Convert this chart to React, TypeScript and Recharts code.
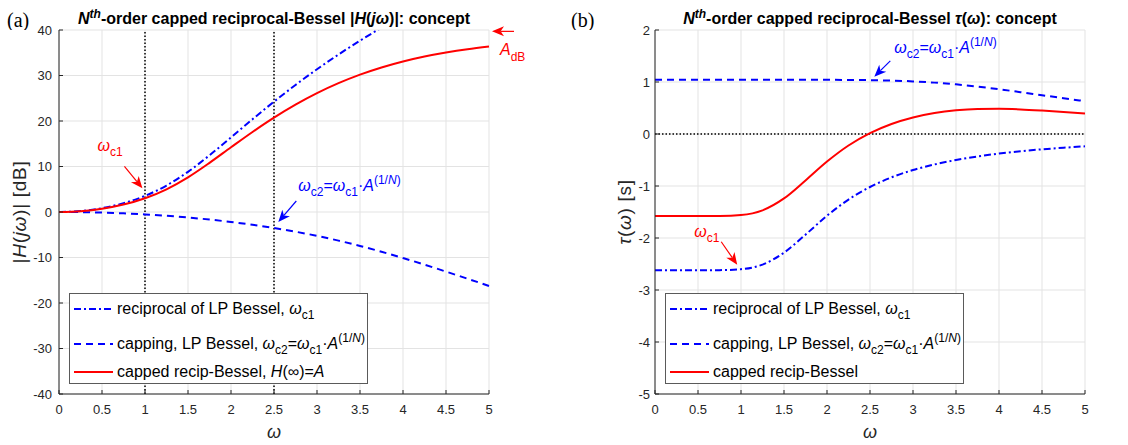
import React from "react";
import {
  LineChart,
  Line,
  XAxis,
  YAxis,
  CartesianGrid,
  ReferenceLine,
  ReferenceDot,
  Legend,
} from "recharts";

const FONT = '"Liberation Sans", Arial, Helvetica, sans-serif';
const INK = "#262626";
const GRID = "#e3e3e3";
const BLUE = "#0000ff";
const RED = "#ff0000";
const DASH_DOT = "7 3 2 3";
const DASH = "7 5";

// angular frequency samples
const omega = [
  0, 0.25, 0.5, 0.75, 1, 1.25, 1.5, 1.75, 2, 2.25, 2.5, 2.75, 3, 3.25, 3.5,
  3.75, 4, 4.25, 4.5, 4.75, 5,
];

// magnitude |H(jω)| in dB
const recipMagDb = [
  0, 0.21, 0.84, 1.93, 3.55, 5.82, 8.83, 12.46, 16.4, 20.39, 24.25, 27.92,
  31.37, 34.61, 37.65, 40.51, 43.2, 45.75, 48.16, 50.45, 52.63,
];
const capMagDb = [
  0, -0.03, -0.13, -0.3, -0.53, -0.83, -1.21, -1.66, -2.19, -2.8, -3.51, -4.33,
  -5.25, -6.29, -7.46, -8.73, -10.11, -11.57, -13.1, -14.66, -16.25,
];
const cappedMagDb = [
  0, 0.18, 0.71, 1.63, 3.02, 4.99, 7.62, 10.8, 14.22, 17.59, 20.74, 23.59,
  26.12, 28.31, 30.19, 31.77, 33.09, 34.18, 35.06, 35.79, 36.38,
];

// group delay τ(ω) in s
const recipDelay = [
  -2.62, -2.62, -2.62, -2.618, -2.6, -2.511, -2.282, -1.936, -1.572, -1.261,
  -1.019, -0.834, -0.693, -0.585, -0.5, -0.432, -0.377, -0.332, -0.295, -0.264,
  -0.237,
];
const capDelay = [
  1.043, 1.043, 1.043, 1.043, 1.043, 1.043, 1.043, 1.043, 1.042, 1.04, 1.035,
  1.027, 1.012, 0.988, 0.955, 0.912, 0.861, 0.805, 0.746, 0.688, 0.631,
];
const cappedDelay = [
  -1.577, -1.577, -1.577, -1.575, -1.557, -1.468, -1.239, -0.893, -0.53,
  -0.221, 0.017, 0.193, 0.318, 0.403, 0.455, 0.48, 0.484, 0.473, 0.451, 0.424,
  0.394,
];

const omegaTicks = [0, 0.5, 1, 1.5, 2, 2.5, 3, 3.5, 4, 4.5, 5];
const magTicks = [-40, -30, -20, -10, 0, 10, 20, 30, 40];
const delayTicks = [-5, -4, -3, -2, -1, 0, 1, 2];

const magData = omega.map((w, i) => ({
  w,
  recip: recipMagDb[i],
  cap: capMagDb[i],
  capped: cappedMagDb[i],
}));
const delayData = omega.map((w, i) => ({
  w,
  recip: recipDelay[i],
  cap: capDelay[i],
  capped: cappedDelay[i],
}));

// small html helpers for the legend text
const sub = (t: React.ReactNode) => (
  <span style={{ fontSize: 12, position: "relative", top: 5 }}>{t}</span>
);
const sup = (t: React.ReactNode) => (
  <span style={{ fontSize: 12, position: "relative", top: -7 }}>{t}</span>
);
const w = <i>ω</i>;
const wc2Html = (
  <>
    {w}
    {sub("c2")}={w}
    {sub("c1")}·<i>A</i>
    {sup(
      <>
        (1/<i>N</i>)
      </>
    )}
  </>
);

const baseSeries = [
  {
    key: "recip",
    color: BLUE,
    dash: DASH_DOT,
    label: (
      <>
        reciprocal of LP Bessel, {w}
        {sub("c1")}
      </>
    ),
  },
  {
    key: "cap",
    color: BLUE,
    dash: DASH,
    label: <>capping, LP Bessel, {wc2Html}</>,
  },
];
const magSeries = [
  ...baseSeries,
  {
    key: "capped",
    color: RED,
    dash: undefined,
    label: (
      <>
        capped recip-Bessel, <i>H</i>(∞)=<i>A</i>
      </>
    ),
  },
];
const delaySeries = [
  ...baseSeries,
  { key: "capped", color: RED, dash: undefined, label: <>capped recip-Bessel</> },
];

type Series = typeof magSeries;

const rowCenters = [15, 50, 77.5];

const LegendBox = ({ series }: { series: Series }) => (
  <div
    style={{
      position: "relative",
      width: 299,
      height: 91,
      boxSizing: "border-box",
      border: "1px solid #5a5a5a",
      background: "#fff",
      fontFamily: FONT,
      fontSize: 16,
      color: "#000",
    }}
  >
    {series.map((s, i) => (
      <div
        key={s.key}
        style={{
          position: "absolute",
          left: 0,
          top: rowCenters[i] - 10,
          height: 20,
          display: "flex",
          alignItems: "center",
          whiteSpace: "nowrap",
        }}
      >
        <svg width={47} height={20} style={{ flex: "none" }}>
          <line
            x1={4}
            x2={43}
            y1={10}
            y2={10}
            stroke={s.color}
            strokeWidth={2}
            strokeDasharray={s.dash}
          />
        </svg>
        <span style={{ lineHeight: "20px" }}>{s.label}</span>
      </div>
    ))}
  </div>
);

// arrow with its tip on (cx, cy), tail at (cx+dx, cy+dy), label at (cx+lx, cy+ly)
function arrowTo(
  color: string,
  dx: number,
  dy: number,
  lx: number,
  ly: number,
  label: React.ReactNode
) {
  return (p: any) => {
    const { cx, cy } = p;
    const len = Math.hypot(dx, dy);
    const ux = -dx / len;
    const uy = -dy / len;
    const L = 12;
    const W = 5;
    const bx = cx - ux * L;
    const by = cy - uy * L;
    const mx = cx - ux * L * 0.72;
    const my = cy - uy * L * 0.72;
    const nx = -uy;
    const ny = ux;
    return (
      <g>
        <line
          x1={cx + dx}
          y1={cy + dy}
          x2={mx}
          y2={my}
          stroke={color}
          strokeWidth={1.2}
        />
        <polygon
          points={`${cx},${cy} ${bx + nx * W},${by + ny * W} ${mx},${my} ${
            bx - nx * W
          },${by - ny * W}`}
          fill={color}
        />
        <text
          x={cx + lx}
          y={cy + ly}
          fill={color}
          fontSize={16}
          fontFamily={FONT}
        >
          {label}
        </text>
      </g>
    );
  };
}

const wc1Svg = (
  <>
    <tspan fontStyle="italic">ω</tspan>
    <tspan fontSize={12} dy={5}>
      c1
    </tspan>
  </>
);
const wc2Svg = (
  <>
    <tspan fontStyle="italic">ω</tspan>
    <tspan fontSize={12} dy={5}>
      c2
    </tspan>
    <tspan dy={-5}>=</tspan>
    <tspan fontStyle="italic">ω</tspan>
    <tspan fontSize={12} dy={5}>
      c1
    </tspan>
    <tspan dy={-5}>·</tspan>
    <tspan fontStyle="italic">A</tspan>
    <tspan fontSize={12} dy={-7}>
      (1/
    </tspan>
    <tspan fontSize={12} fontStyle="italic">
      N
    </tspan>
    <tspan fontSize={12}>)</tspan>
  </>
);
const adbSvg = (
  <>
    <tspan fontStyle="italic">A</tspan>
    <tspan fontSize={12} dy={6}>
      dB
    </tspan>
  </>
);

const tickStyle = { fill: INK, fontSize: 13, fontFamily: FONT };

const xLabel = (p: any) => {
  const vb = p.viewBox || { x: 0, y: 0, width: 0 };
  return (
    <text
      x={vb.x + vb.width / 2}
      y={vb.y + 44}
      textAnchor="middle"
      fontSize={18}
      fontStyle="italic"
      fill={INK}
      fontFamily={FONT}
    >
      ω
    </text>
  );
};

const yLabel = (baseX: number, content: React.ReactNode) => (p: any) => {
  const vb = p.viewBox || { x: 0, y: 30, height: 364 };
  const x = vb.x + baseX;
  const y = vb.y + vb.height / 2;
  return (
    <text
      x={x}
      y={y}
      transform={`rotate(-90 ${x} ${y})`}
      textAnchor="middle"
      fontSize={19}
      letterSpacing={0.7}
      fill={INK}
      fontFamily={FONT}
    >
      {content}
    </text>
  );
};

const Title = ({ cx, children }: { cx: number; children: React.ReactNode }) => (
  <text
    x={cx}
    y={23.5}
    textAnchor="middle"
    fontSize={16}
    fontWeight="bold"
    fill="#000"
    fontFamily={FONT}
  >
    {children}
  </text>
);

const Tag = ({ label }: { label: string }) => (
  <text
    x={7}
    y={27}
    fontSize={20}
    fill="#000"
    fontFamily='"Liberation Serif", "Times New Roman", serif'
  >
    {label}
  </text>
);

const frameAxes = (ticksX: number[], ticksY: number[], domainY: number[]) => [
  <XAxis
    key="top"
    xAxisId="top"
    orientation="top"
    type="number"
    domain={[0, 5]}
    ticks={ticksX}
    allowDataOverflow
    height={0}
    tick={false}
    tickSize={-4}
    interval={0}
    stroke={INK}
  />,
  <YAxis
    key="right"
    yAxisId="right"
    orientation="right"
    type="number"
    domain={domainY}
    ticks={ticksY}
    allowDataOverflow
    width={0}
    tick={false}
    tickSize={-4}
    interval={0}
    stroke={INK}
  />,
];

const MagnitudePanel = () => (
  <div style={{ position: "absolute", left: 0, top: 0, width: 564, height: 445 }}>
    <LineChart
      width={564}
      height={445}
      data={magData}
      margin={{ top: 30, right: 75, bottom: 0, left: 0 }}
    >
      <CartesianGrid stroke={GRID} />
      <XAxis
        dataKey="w"
        type="number"
        domain={[0, 5]}
        ticks={omegaTicks}
        interval={0}
        height={51}
        tickSize={-4}
        tickMargin={15}
        tick={tickStyle}
        stroke={INK}
        label={{ content: xLabel }}
      />
      <YAxis
        type="number"
        domain={[-40, 40]}
        ticks={magTicks}
        interval={0}
        allowDataOverflow
        width={59}
        tickSize={-4}
        tickMargin={11}
        tick={tickStyle}
        stroke={INK}
        label={{
          content: yLabel(
            26,
            <>
              |<tspan fontStyle="italic">H</tspan>(
              <tspan fontStyle="italic">jω</tspan>)| [dB]
            </>
          ),
        }}
      />
      {frameAxes(omegaTicks, magTicks, [-40, 40])}
      <ReferenceLine x={1} stroke="#000" strokeWidth={1.5} strokeDasharray="1.5 2" />
      <ReferenceLine x={2.5} stroke="#000" strokeWidth={1.5} strokeDasharray="1.5 2" />
      {magSeries.map((s) => (
        <Line
          key={s.key}
          dataKey={s.key}
          type="monotone"
          stroke={s.color}
          strokeWidth={2}
          strokeDasharray={s.dash}
          dot={false}
          activeDot={false}
          isAnimationActive={false}
        />
      ))}
      <ReferenceDot
        x={0.97}
        y={5.2}
        r={0}
        ifOverflow="visible"
        shape={arrowTo(RED, -18, -22, -45, -37, wc1Svg)}
      />
      <ReferenceDot
        x={2.55}
        y={-2.2}
        r={0}
        ifOverflow="visible"
        shape={arrowTo(BLUE, 18, -21, 20, -31, wc2Svg)}
      />
      <ReferenceDot
        x={5.035}
        y={39.7}
        r={0}
        ifOverflow="visible"
        shape={arrowTo(RED, 22, 0, 8, 24, adbSvg)}
      />
      <Legend
        layout="vertical"
        align="center"
        verticalAlign="middle"
        wrapperStyle={{ left: 69, top: 293, width: "auto" }}
        content={() => <LegendBox series={magSeries} />}
      />
    </LineChart>
    <svg
      width={564}
      height={30}
      style={{ position: "absolute", left: 0, top: 0, pointerEvents: "none" }}
    >
      <Tag label="(a)" />
      <Title cx={274}>
        <tspan fontStyle="italic">N</tspan>
        <tspan fontStyle="italic" fontSize={12} dy={-6}>
          th
        </tspan>
        <tspan dy={6}>-order capped reciprocal-Bessel |</tspan>
        <tspan fontStyle="italic">H</tspan>(<tspan fontStyle="italic">jω</tspan>
        )|: concept
      </Title>
    </svg>
  </div>
);

const DelayPanel = () => (
  <div style={{ position: "absolute", left: 564, top: 0, width: 564, height: 445 }}>
    <LineChart
      width={564}
      height={445}
      data={delayData}
      margin={{ top: 30, right: 43, bottom: 0, left: 0 }}
    >
      <CartesianGrid stroke={GRID} />
      <XAxis
        dataKey="w"
        type="number"
        domain={[0, 5]}
        ticks={omegaTicks}
        interval={0}
        height={51}
        tickSize={-4}
        tickMargin={15}
        tick={tickStyle}
        stroke={INK}
        label={{ content: xLabel }}
      />
      <YAxis
        type="number"
        domain={[-5, 2]}
        ticks={delayTicks}
        interval={0}
        allowDataOverflow
        width={91}
        tickSize={-4}
        tickMargin={9}
        tick={tickStyle}
        stroke={INK}
        label={{
          content: yLabel(
            66.5,
            <>
              <tspan fontStyle="italic">τ</tspan>(
              <tspan fontStyle="italic">ω</tspan>) [s]
            </>
          ),
        }}
      />
      {frameAxes(omegaTicks, delayTicks, [-5, 2])}
      <ReferenceLine y={0} stroke="#000" strokeWidth={1.5} strokeDasharray="1.5 2" />
      {delaySeries.map((s) => (
        <Line
          key={s.key}
          dataKey={s.key}
          type="monotone"
          stroke={s.color}
          strokeWidth={2}
          strokeDasharray={s.dash}
          dot={false}
          activeDot={false}
          isAnimationActive={false}
        />
      ))}
      <ReferenceDot
        x={2.55}
        y={1.1}
        r={0}
        ifOverflow="visible"
        shape={arrowTo(BLUE, 16, -16, 20, -24, wc2Svg)}
      />
      <ReferenceDot
        x={0.956}
        y={-2.515}
        r={0}
        ifOverflow="visible"
        shape={arrowTo(RED, -16, -23, -43, -28, wc1Svg)}
      />
      <Legend
        layout="vertical"
        align="center"
        verticalAlign="middle"
        wrapperStyle={{ left: 101, top: 293, width: "auto" }}
        content={() => <LegendBox series={delaySeries} />}
      />
    </LineChart>
    <svg
      width={564}
      height={30}
      style={{ position: "absolute", left: 0, top: 0, pointerEvents: "none" }}
    >
      <Tag label="(b)" />
      <Title cx={306}>
        <tspan fontStyle="italic">N</tspan>
        <tspan fontStyle="italic" fontSize={12} dy={-6}>
          th
        </tspan>
        <tspan dy={6}>-order capped reciprocal-Bessel </tspan>
        <tspan fontStyle="italic">τ</tspan>(<tspan fontStyle="italic">ω</tspan>
        ): concept
      </Title>
    </svg>
  </div>
);

export default function App() {
  return (
    <div
      style={{
        position: "absolute",
        left: 0,
        top: 0,
        width: 1128,
        height: 445,
        background: "#fff",
        fontFamily: FONT,
      }}
    >
      <MagnitudePanel />
      <DelayPanel />
    </div>
  );
}
